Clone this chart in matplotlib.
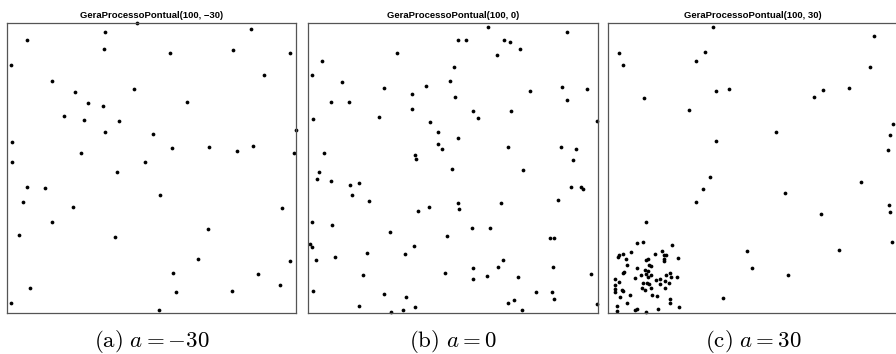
import matplotlib
matplotlib.use("Agg")
import matplotlib.pyplot as plt

plt.rcParams['mathtext.fontset'] = 'cm'

titles = ["GeraProcessoPontual(100, \u221230)", "GeraProcessoPontual(100, 0)", "GeraProcessoPontual(100, 30)"]
captions = [r"$\mathrm{(a)}\ a = -30$", r"$\mathrm{(b)}\ a = 0$", r"$\mathrm{(c)}\ a = 30$"]

# Panel (a): a = -30
xa = [0.449, 0.340, 0.843, 0.069, 0.336, 0.565, 0.781, 0.979, 0.015, 0.156,
      0.888, 0.439, 0.236, 0.279, 0.332, 0.622, 0.196, 0.266, 0.388, 0.340,
      0.506, 1.000, 0.017, 0.571, 0.697, 0.795, 0.851, 0.256, 0.991, 0.017,
      0.476, 0.381, 0.069, 0.131, 0.529, 0.055, 0.228, 0.952, 0.156, 0.694,
      0.040, 0.373, 0.659, 0.978, 0.573, 0.868, 0.945, 0.079, 0.583, 0.778,
      0.015, 0.526]
ya = [0.998, 0.966, 0.977, 0.940, 0.907, 0.894, 0.906, 0.895, 0.852, 0.798,
      0.820, 0.772, 0.762, 0.724, 0.713, 0.726, 0.679, 0.663, 0.662, 0.622,
      0.617, 0.628, 0.587, 0.567, 0.571, 0.557, 0.574, 0.549, 0.551, 0.518,
      0.518, 0.485, 0.432, 0.428, 0.405, 0.382, 0.364, 0.359, 0.313, 0.287,
      0.266, 0.261, 0.183, 0.179, 0.137, 0.134, 0.095, 0.084, 0.072, 0.074,
      0.032, 0.009]

# Panel (b): a = 0
xb = [0.620, 0.894, 0.517, 0.544, 0.677, 0.696, 0.732, 0.306, 0.651, 0.047,
      0.503, 0.012, 0.116, 0.490, 0.406, 0.262, 0.878, 0.962, 0.768, 0.358,
      0.506, 0.893, 0.077, 0.141, 0.358, 0.568, 0.702, 0.016, 0.244, 0.588,
      0.422, 0.999, 0.450, 0.517, 0.450, 0.462, 0.690, 0.873, 0.925, 0.054,
      0.370, 0.371, 0.916, 0.495, 0.743, 0.037, 0.029, 0.078, 0.145, 0.175,
      0.150, 0.907, 0.942, 0.949, 0.210, 0.862, 0.517, 0.666, 0.522, 0.418,
      0.379, 0.014, 0.082, 0.565, 0.627, 0.281, 0.478, 0.834, 0.849, 0.006,
      0.012, 0.364, 0.203, 0.334, 0.026, 0.093, 0.672, 0.571, 0.656, 0.846,
      0.189, 0.474, 0.569, 0.616, 0.724, 0.977, 0.015, 0.263, 0.338, 0.788,
      0.844, 0.849, 0.712, 0.691, 0.175, 0.369, 0.997, 0.329, 0.285, 0.740]
yb = [0.983, 0.967, 0.938, 0.941, 0.941, 0.933, 0.907, 0.895, 0.887, 0.866,
      0.847, 0.820, 0.794, 0.798, 0.782, 0.773, 0.776, 0.772, 0.764, 0.753,
      0.742, 0.733, 0.725, 0.727, 0.703, 0.695, 0.696, 0.667, 0.674, 0.671,
      0.658, 0.662, 0.621, 0.603, 0.582, 0.563, 0.571, 0.571, 0.563, 0.550,
      0.544, 0.528, 0.525, 0.495, 0.492, 0.485, 0.460, 0.452, 0.438, 0.445,
      0.404, 0.433, 0.432, 0.426, 0.385, 0.387, 0.379, 0.378, 0.356, 0.363,
      0.349, 0.311, 0.301, 0.293, 0.293, 0.278, 0.265, 0.256, 0.257, 0.235,
      0.226, 0.228, 0.204, 0.203, 0.182, 0.192, 0.182, 0.154, 0.156, 0.156,
      0.130, 0.135, 0.115, 0.126, 0.122, 0.134, 0.073, 0.065, 0.052, 0.069,
      0.069, 0.047, 0.043, 0.032, 0.024, 0.018, 0.029, 0.009, 0.001, 0.008]

# Panel (c): a = 30
xc = [0.361, 0.917, 0.036, 0.334, 0.303, 0.052, 0.904, 0.374, 0.416, 0.742,
      0.831, 0.124, 0.711, 0.280, 0.983, 0.578, 0.974, 0.374, 0.967, 0.350,
      0.873, 0.327, 0.611, 0.302, 0.969, 0.974, 0.736, 0.129, 0.982, 0.478,
      0.797, 0.498, 0.621, 0.396,
      0.099, 0.119, 0.219, 0.036, 0.050, 0.033, 0.077, 0.062, 0.160, 0.184,
      0.194, 0.200, 0.192, 0.194, 0.242, 0.063, 0.052, 0.054, 0.100, 0.130,
      0.136, 0.139, 0.149, 0.127, 0.138, 0.024, 0.037, 0.023, 0.023, 0.022,
      0.048, 0.050, 0.094, 0.113, 0.129, 0.136, 0.147, 0.121, 0.135, 0.141,
      0.116, 0.126, 0.146, 0.166, 0.179, 0.177, 0.198, 0.214, 0.217, 0.197,
      0.209, 0.238, 0.197, 0.040, 0.074, 0.066, 0.150, 0.168, 0.214, 0.215,
      0.243, 0.030, 0.029, 0.094, 0.099, 0.132, 0.171]
yc = [0.984, 0.954, 0.894, 0.899, 0.868, 0.853, 0.846, 0.764, 0.772, 0.767,
      0.773, 0.741, 0.744, 0.700, 0.649, 0.623, 0.612, 0.590, 0.561, 0.467,
      0.449, 0.427, 0.412, 0.381, 0.372, 0.347, 0.340, 0.313, 0.243, 0.211,
      0.214, 0.154, 0.128, 0.051,
      0.238, 0.242, 0.233, 0.199, 0.202, 0.192, 0.209, 0.185, 0.203, 0.211,
      0.198, 0.198, 0.184, 0.176, 0.189, 0.164, 0.137, 0.141, 0.154, 0.182,
      0.185, 0.165, 0.159, 0.145, 0.144, 0.115, 0.106, 0.096, 0.082, 0.070,
      0.077, 0.074, 0.120, 0.129, 0.134, 0.123, 0.128, 0.103, 0.101, 0.099,
      0.084, 0.078, 0.085, 0.113, 0.115, 0.100, 0.129, 0.137, 0.123, 0.107,
      0.103, 0.122, 0.083, 0.052, 0.060, 0.032, 0.062, 0.056, 0.046, 0.033,
      0.020, 0.021, 0.005, 0.008, 0.012, 0.002, 0.013]

W, H = 896, 354
fig = plt.figure(figsize=(W / 100, H / 100), dpi=100)

lefts = [7.0, 308.3, 608.3]
pw, top, bottom = 289.3, 22.5, 312.5
series = [(xa, ya), (xb, yb), (xc, yc)]

for i, (xs, ys) in enumerate(series):
    ax = fig.add_axes([lefts[i] / W, (H - bottom) / H, pw / W, (bottom - top) / H])
    ax.plot(xs, ys, 'o', color='black', markersize=2.7, markeredgewidth=0, clip_on=False)
    ax.set_xlim(0, 1)
    ax.set_ylim(0, 1)
    ax.set_xticks([])
    ax.set_yticks([])
    for s in ax.spines.values():
        s.set_color('#555555')
        s.set_linewidth(0.9)
    ax.set_title(titles[i], fontsize=6.8, fontweight='bold', family='Liberation Sans', pad=3.5)
    fig.text((lefts[i] + pw / 2) / W, 7.0 / H, captions[i], ha='center', va='baseline', fontsize=16.5)

fig.savefig("out.png", dpi=100)
